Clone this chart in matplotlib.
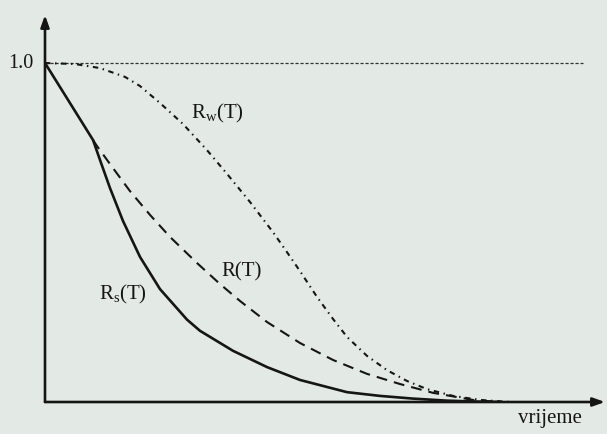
import matplotlib
matplotlib.use("Agg")
import matplotlib.pyplot as plt

plt.rcParams["mathtext.fontset"] = "custom"
plt.rcParams["mathtext.rm"] = "Liberation Serif"
plt.rcParams["mathtext.it"] = "Liberation Serif"

# Values (time in arbitrary units, reliability 0..1)
t_s = [0, 0.96, 1.1, 1.3, 1.56, 1.9, 2.3, 2.84, 3.1, 3.76, 4.44, 5.1, 6.04, 6.7, 7.36, 8.04, 8.7, 9.1]
R_s = [1.0, 0.773, 0.714, 0.631, 0.534, 0.428, 0.333, 0.243, 0.210, 0.151, 0.103, 0.065, 0.029, 0.018,
       0.010, 0.004, 0.001, 0.0]

t_r = [0.96, 1.04, 1.3, 1.7, 2.1, 2.5, 3.04, 3.5, 3.9, 4.44, 5.1, 5.76, 6.44, 7.1, 7.76, 8.56, 9.1]
R_r = [0.773, 0.755, 0.702, 0.622, 0.552, 0.487, 0.410, 0.348, 0.298, 0.236, 0.174, 0.124, 0.083,
       0.053, 0.027, 0.006, 0.0]

t_w = [0, 0.6, 1.1, 1.6, 1.9, 2.3, 2.76, 3.24, 3.64, 4.1, 4.56, 4.84, 5.1, 5.44, 5.76, 6.04, 6.44,
       6.84, 7.24, 7.64, 8.16, 8.7, 9.3]
R_w = [1.0, 0.997, 0.985, 0.959, 0.932, 0.882, 0.820, 0.743, 0.673, 0.590, 0.501, 0.442, 0.386, 0.310,
       0.245, 0.192, 0.136, 0.094, 0.062, 0.038, 0.018, 0.006, 0.0]

ref_level = 1.0
ref_end = 10.76
y_tick_label = "1.0"
x_label = "vrijeme"
labels = {"Rs": (r"R$_\mathrm{s}$(T)", 1.56, 0.318),
          "R": ("R(T)", 3.94, 0.385),
          "Rw": (r"R$_\mathrm{w}$(T)", 3.44, 0.852)}

bg = "#e3eae5"
W, H = 607, 434
fig = plt.figure(figsize=(W / 100, H / 100), dpi=100, facecolor=bg)
x0, x1 = 45, 605
y0, y1 = 402, 15
ax = fig.add_axes([x0 / W, 1 - y0 / H, (x1 - x0) / W, (y0 - y1) / H])
ax.patch.set_alpha(0)
xmax = (x1 - x0) / 50
ymax = (y0 - y1) / 339
ax.set_xlim(0, xmax)
ax.set_ylim(0, ymax)
for s in ax.spines.values():
    s.set_visible(False)
ax.set_xticks([])
ax.set_yticks([])

ink = "#151515"
# axes with arrows
ax.annotate("", xy=(xmax, 0), xytext=(0, 0), annotation_clip=False,
            arrowprops=dict(arrowstyle="-|>,head_length=0.7,head_width=0.25", color=ink, lw=1.9, shrinkA=0, shrinkB=0))
ax.annotate("", xy=(0, ymax), xytext=(0, 0), annotation_clip=False,
            arrowprops=dict(arrowstyle="-|>,head_length=0.7,head_width=0.25", color=ink, lw=1.9, shrinkA=0, shrinkB=0))

# reference line at 1.0
ax.plot([0, ref_end], [ref_level, ref_level], color="#333333", lw=0.9, ls=(0, (2.5, 1.5)))

ax.plot(t_s, R_s, color=ink, lw=1.9, solid_capstyle="round", solid_joinstyle="round")
ax.plot(t_r, R_r, color=ink, lw=1.5, ls=(0, (5.2, 3.4)))
ax.plot(t_w, R_w, color=ink, lw=1.5, ls=(0, (2.6, 2.2, 0.7, 2.2)))

font = "Liberation Serif"
ax.text(-0.24, ref_level, y_tick_label, ha="right", va="center", fontsize=14.5, family=font, color=ink)
ax.text(10.1, -0.02, x_label, ha="center", va="top", fontsize=15, family=font, color=ink)
for key, (txt, tx, ty) in labels.items():
    ax.text(tx, ty, txt, ha="center", va="center", fontsize=15, family=font, color=ink)

fig.savefig("out.png", dpi=100, facecolor=bg)
